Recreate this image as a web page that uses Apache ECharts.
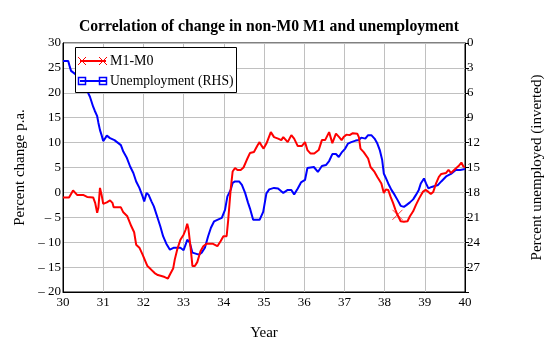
<!DOCTYPE html>
<html>
<head>
<meta charset="utf-8">
<script src="https://cdn.jsdelivr.net/npm/echarts@6/dist/echarts.min.js"></script>
<style>
html,body{margin:0;padding:0;background:#fff;}
#c{width:557px;height:351px;}
</style>
</head>
<body>
<div id="c"></div>
<script>
// ---- data ----
const m1Years = [30.0,30.15,30.2,30.25,30.35,30.5,30.6,30.75,30.8,30.85,30.88,30.92,30.96,31.0,31.09,31.17,31.23,31.26,31.44,31.5,31.6,31.7,31.77,31.82,31.9,31.98,32.1,32.18,32.28,32.36,32.45,32.53,32.61,32.66,32.74,32.78,32.84,32.92,33.0,33.05,33.09,33.12,33.17,33.22,33.28,33.34,33.42,33.49,33.57,33.72,33.84,33.92,33.99,34.07,34.11,34.17,34.22,34.28,34.34,34.42,34.49,34.57,34.65,34.75,34.83,34.89,34.93,34.99,35.06,35.17,35.25,35.35,35.43,35.48,35.59,35.68,35.75,35.84,35.94,36.02,36.08,36.16,36.25,36.36,36.44,36.52,36.62,36.7,36.79,36.87,36.93,36.98,37.05,37.13,37.21,37.32,37.36,37.4,37.48,37.59,37.65,37.75,37.82,37.92,37.98,38.03,38.09,38.15,38.21,38.27,38.32,38.4,38.48,38.57,38.63,38.71,38.78,38.86,38.95,39.02,39.09,39.15,39.21,39.28,39.35,39.41,39.53,39.59,39.65,39.77,39.84,39.91,39.96,40.0];
const m1Change = [-1.0,-1.0,-0.3,0.4,-0.5,-0.5,-0.9,-1.0,-2.1,-4.1,-3.1,0.9,-0.5,-2.3,-2.0,-1.6,-2.1,-3.0,-3.0,-4.0,-4.8,-6.8,-8.0,-10.5,-11.1,-12.5,-14.8,-15.4,-16.2,-16.6,-16.8,-17.0,-17.3,-16.5,-15.3,-13.5,-11.5,-9.5,-8.5,-7.5,-6.3,-7.3,-10.8,-14.8,-14.8,-14.0,-11.8,-10.8,-10.3,-10.3,-10.8,-9.8,-8.8,-8.8,-5.5,0.5,4.2,4.9,4.5,4.5,5.0,6.5,7.9,8.1,9.3,10.1,9.5,8.8,9.8,12.1,11.1,10.8,10.5,11.1,10.1,11.5,10.8,9.3,9.3,10.1,8.5,7.8,7.8,8.5,10.5,10.5,12.1,9.9,11.8,11.1,10.5,11.1,11.6,11.5,11.9,11.8,11.1,8.8,8.1,6.8,5.1,4.1,3.1,1.8,-0.1,0.6,0.5,-0.9,-2.1,-3.5,-4.5,-5.8,-5.9,-5.8,-4.8,-3.8,-2.5,-1.2,0.1,0.5,0.1,-0.3,0.1,1.8,3.1,3.7,3.9,4.5,3.9,4.8,5.3,6.0,5.2,5.0];
const unempYears = [30.0,30.13,30.17,30.2,30.3,30.4,30.5,30.58,30.63,30.67,30.71,30.75,30.79,30.85,30.88,30.92,30.96,31.0,31.05,31.09,31.17,31.2,31.28,31.36,31.44,31.5,31.59,31.67,31.75,31.82,31.9,31.98,32.02,32.08,32.13,32.2,32.26,32.34,32.42,32.49,32.57,32.66,32.76,32.92,33.0,33.05,33.09,33.15,33.22,33.38,33.45,33.53,33.61,33.68,33.76,33.84,33.95,34.03,34.09,34.17,34.22,34.28,34.38,34.45,34.53,34.6,34.65,34.73,34.89,34.98,35.06,35.13,35.25,35.35,35.48,35.59,35.68,35.75,35.84,35.92,36.02,36.08,36.24,36.34,36.44,36.54,36.62,36.7,36.79,36.86,36.94,37.02,37.09,37.17,37.28,37.36,37.42,37.52,37.59,37.67,37.75,37.82,37.88,37.94,37.98,38.02,38.09,38.17,38.25,38.32,38.4,38.48,38.55,38.63,38.71,38.78,38.85,38.9,38.98,39.03,39.09,39.17,39.25,39.33,39.41,39.53,39.65,39.77,39.88,40.0];
const unempRate = [2.16,2.16,2.88,3.36,3.72,4.32,5.1,5.64,6.06,6.48,7.08,7.68,8.16,8.82,9.6,10.5,11.1,11.82,11.46,11.16,11.46,11.58,11.7,12.0,12.3,13.08,13.86,14.88,15.66,16.68,17.46,18.48,19.08,18.06,18.3,19.08,19.68,20.88,22.08,23.28,24.18,24.9,24.66,24.66,24.96,24.3,23.7,24.0,25.26,25.5,25.26,24.66,23.28,22.26,21.48,21.3,21.06,20.1,18.48,17.7,16.86,16.68,16.68,17.1,18.06,19.2,19.92,21.3,21.3,20.34,18.12,17.64,17.46,17.52,18.06,17.7,17.7,18.24,17.52,16.8,16.5,15.06,14.94,15.54,14.82,14.7,14.22,13.38,13.38,13.74,13.14,12.72,12.12,11.94,11.76,11.7,11.4,11.52,11.1,11.1,11.52,12.12,12.9,14.1,15.72,16.14,16.92,17.7,18.3,18.9,19.62,19.74,19.5,19.2,18.84,18.3,17.7,16.92,16.32,16.92,17.52,17.34,17.22,17.1,16.68,16.08,15.78,15.3,15.3,15.18];
const markerIndex = 110; // the single plotted "x" marker on the M1-M0 curve
const xTicks = [30,31,32,33,34,35,36,37,38,39,40];
const leftTicks = [-20,-15,-10,-5,0,5,10,15,20,25,30];
const rightTicks = [0,3,6,9,12,15,18,21,24,27];

const SERIF = '"Liberation Serif","DejaVu Serif",serif';
const red = '#ff0000', blue = '#0000ff';

const chart = echarts.init(document.getElementById('c'), null, {renderer:'canvas'});
const m1Data = m1Years.map((x,i)=>[x,m1Change[i]]);
const unData = unempYears.map((x,i)=>[x,unempRate[i]]);

chart.setOption({
  animation:false,
  backgroundColor:'#fff',
  title:{
    text:'Correlation of change in non-M0 M1 and unemployment',
    left:264, textAlign:'center', top:14,
    textStyle:{fontFamily:SERIF, fontSize:15.7, fontWeight:'bold', color:'#000'}
  },
  grid:{left:63, right:92, top:43, bottom:59, show:true, borderColor:'#000', borderWidth:1, backgroundColor:'transparent'},
  xAxis:{
    type:'value', min:30, max:40, interval:1,
    name:'Year', nameLocation:'middle', nameGap:34,
    nameTextStyle:{fontFamily:SERIF, fontSize:15, color:'#000'},
    axisLine:{show:true, onZero:false, lineStyle:{color:'#000', width:1}},
    axisTick:{show:false},
    axisLabel:{fontFamily:SERIF, fontSize:13, color:'#000', margin:4,
      formatter:v=> xTicks.includes(v) ? String(v) : ''},
    splitLine:{show:true, lineStyle:{color:'#c0c0c0', width:1}}
  },
  yAxis:[{
    type:'value', min:-20, max:30, interval:5, position:'left',
    name:'Percent change p.a.', nameLocation:'middle', nameGap:28, nameRotate:90,
    nameTextStyle:{fontFamily:SERIF, fontSize:15, color:'#000'},
    axisLine:{show:true, onZero:false, lineStyle:{color:'#000', width:1}},
    axisTick:{show:false},
    axisLabel:{fontFamily:SERIF, fontSize:13, color:'#000', margin:2,
      formatter:v=> !leftTicks.includes(v) ? '' : (v<0 ? '\u2013 '+(-v) : String(v))},
    splitLine:{show:true, lineStyle:{color:'#c0c0c0', width:1}}
  },{
    type:'value', min:0, max:30, interval:3, inverse:true, position:'right',
    name:'Percent unemployed (inverted)', nameLocation:'middle', nameGap:65, nameRotate:90,
    nameTextStyle:{fontFamily:SERIF, fontSize:15, color:'#000'},
    axisLine:{show:true, onZero:false, lineStyle:{color:'#000', width:1}},
    axisTick:{show:true, inside:false, length:4, lineStyle:{color:'#000'}},
    axisLabel:{fontFamily:SERIF, fontSize:13, color:'#000', margin:2,
      formatter:v=> rightTicks.includes(v) ? String(v) : ''},
    splitLine:{show:false}
  }],
  series:[{
    name:'M1-M0', type:'line', yAxisIndex:0, data:m1Data,
    showSymbol:false, symbol:'none', lineStyle:{color:red, width:2}, z:3
  },{
    name:'Unemployment (RHS)', type:'line', yAxisIndex:1, data:unData,
    showSymbol:false, symbol:'none', lineStyle:{color:blue, width:2}, z:2
  },{
    type:'scatter', yAxisIndex:0, data:[m1Data[markerIndex]],
    symbol:'path://M0,0L10,10M10,0L0,10', symbolSize:10,
    itemStyle:{color:'rgba(0,0,0,0)', borderColor:red, borderWidth:1}, z:4
  }],
  graphic:[
    {type:'rect', z:100, shape:{x:75.5, y:47.5, width:161, height:45}, style:{fill:'#fff', stroke:'#000', lineWidth:1}},
    {type:'line', z:101, shape:{x1:80, y1:61, x2:106, y2:61}, style:{stroke:red, lineWidth:2}},
    {type:'polyline', z:101, shape:{points:[[78,57],[86,65]]}, style:{stroke:red, lineWidth:1}},
    {type:'polyline', z:101, shape:{points:[[78,65],[86,57]]}, style:{stroke:red, lineWidth:1}},
    {type:'polyline', z:101, shape:{points:[[99,57],[107,65]]}, style:{stroke:red, lineWidth:1}},
    {type:'polyline', z:101, shape:{points:[[99,65],[107,57]]}, style:{stroke:red, lineWidth:1}},
    {type:'text', z:101, style:{x:110, y:61, text:'M1-M0', font:'14px '+SERIF, fill:'#000', verticalAlign:'middle'}},
    {type:'line', z:101, shape:{x1:80, y1:81, x2:106, y2:81}, style:{stroke:blue, lineWidth:2}},
    {type:'rect', z:101, shape:{x:78.5, y:77.5, width:7, height:7}, style:{fill:'none', stroke:blue, lineWidth:1.5}},
    {type:'rect', z:101, shape:{x:99.5, y:77.5, width:7, height:7}, style:{fill:'none', stroke:blue, lineWidth:1.5}},
    {type:'text', z:101, style:{x:110, y:81, text:'Unemployment (RHS)', font:'13.6px '+SERIF, fill:'#000', verticalAlign:'middle'}}
  ]
});
</script>
</body>
</html>
